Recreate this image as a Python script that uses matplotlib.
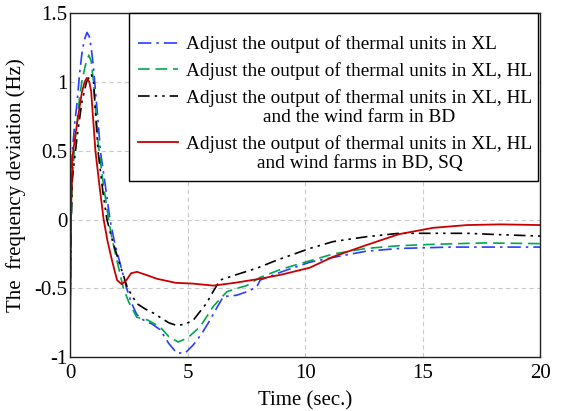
import numpy as np
import matplotlib.pyplot as plt
from matplotlib.legend_handler import HandlerLine2D

plt.rcParams['font.family'] = ['Liberation Serif', 'DejaVu Serif']

# time (s) and frequency deviation (Hz)
t_xl = [0, 0.05, 0.1, 0.2, 0.3, 0.4, 0.5, 0.6, 0.72, 0.82, 0.9, 1.0, 1.2, 1.29, 1.5, 1.7,
        1.9, 2.1, 2.41, 2.6, 2.84, 3.12, 3.5, 3.83, 4.2, 4.54, 4.9, 5.25, 5.6, 5.96,
        6.25, 6.52, 7.09, 7.6, 7.94, 8.09, 9.0, 10.2, 11.2, 12.6, 14.0, 16.2, 18.0, 20.0]
f_xl = [-0.75, 0.2, 0.5, 0.7, 0.85, 1.05, 1.2, 1.3, 1.36, 1.33, 1.25, 1.1, 0.7, 0.5, 0.25, 0.0,
        -0.17, -0.3, -0.5, -0.6, -0.69, -0.73, -0.76, -0.8, -0.9, -0.97, -0.97, -0.91, -0.83, -0.73,
        -0.64, -0.56, -0.55, -0.52, -0.49, -0.44, -0.38, -0.31, -0.275, -0.23, -0.21, -0.2, -0.2, -0.2]

t_xlhl = [0, 0.05, 0.1, 0.2, 0.3, 0.4, 0.5, 0.65, 0.8, 0.9, 1.0, 1.2, 1.4, 1.64, 1.8, 2.0,
          2.27, 2.5, 2.84, 3.3, 3.83, 4.2, 4.6, 5.0, 5.53, 6.1, 6.67, 7.1, 7.52, 8.09,
          9.0, 10.2, 11.2, 12.6, 14.0, 15.45, 17.6, 20.0]
f_xlhl = [-0.72, 0.0, 0.3, 0.55, 0.7, 0.88, 1.0, 1.12, 1.195, 1.15, 1.0, 0.55, 0.28, 0.0, -0.15, -0.3,
          -0.5, -0.6, -0.71, -0.73, -0.78, -0.85, -0.89, -0.86, -0.78, -0.63, -0.525, -0.5, -0.48, -0.42,
          -0.36, -0.3, -0.25, -0.21, -0.19, -0.18, -0.17, -0.175]

t_bd = [0, 0.05, 0.1, 0.2, 0.3, 0.5, 0.7, 0.9, 1.0, 1.19, 1.4, 1.57, 1.8, 2.07, 2.45,
        2.84, 3.2, 3.55, 4.2, 4.54, 4.9, 5.25, 5.8, 6.1, 6.38, 7.09, 8.0, 8.8, 10.2,
        11.2, 12.6, 14.0, 15.5, 16.9, 18.3, 20.0]
f_bd = [-0.65, 0.0, 0.3, 0.45, 0.6, 0.85, 1.0, 1.06, 1.0, 0.5, 0.2, 0.0, -0.15, -0.3, -0.5,
        -0.61, -0.65, -0.68, -0.75, -0.77, -0.76, -0.73, -0.61, -0.52, -0.44, -0.4, -0.35, -0.295, -0.21,
        -0.16, -0.125, -0.1, -0.1, -0.1, -0.11, -0.12]

t_sq = [0, 0.05, 0.1, 0.2, 0.3, 0.5, 0.62, 0.72, 0.82, 0.9, 1.08, 1.25, 1.43, 1.6, 1.79,
        2.0, 2.2, 2.4, 2.6, 2.85, 3.2, 3.69, 4.5, 5.2, 6.1, 7.0, 8.1, 9.0, 10.2,
        11.2, 12.6, 14.0, 15.45, 16.9, 18.3, 20.0]
f_sq = [-0.85, 0.1, 0.45, 0.58, 0.7, 0.92, 1.0, 1.03, 1.0, 0.93, 0.5, 0.25, 0.0, -0.16, -0.3,
        -0.44, -0.47, -0.44, -0.39, -0.38, -0.4, -0.43, -0.46, -0.465, -0.48, -0.46, -0.43, -0.4, -0.35,
        -0.27, -0.186, -0.106, -0.06, -0.04, -0.035, -0.04]

labels = ['Adjust the output of thermal units in XL',
          'Adjust the output of thermal units in XL, HL',
          'Adjust the output of thermal units in XL, HL\nand the wind farm in BD',
          'Adjust the output of thermal units in XL, HL\nand wind farms in BD, SQ']


class FirstLineHandler(HandlerLine2D):
    # put the legend sample level with the first line of a two-line label
    def __init__(self, dy, **kw):
        super().__init__(**kw)
        self.dy = dy

    def create_artists(self, legend, orig_handle, xdescent, ydescent, width, height,
                       fontsize, trans):
        arts = super().create_artists(legend, orig_handle, xdescent, ydescent, width,
                                      height, fontsize, trans)
        for a in arts:
            a.set_ydata([y + self.dy for y in a.get_ydata()])
        return arts


fig = plt.figure(figsize=(5.62, 4.11), dpi=100)
ax = fig.add_axes([0.1246, 0.131, 0.8364, 0.837])

l1, = ax.plot(t_xl, f_xl, color='#2b3cff', lw=1.2, dashes=(8, 3, 1.5, 3))
l2, = ax.plot(t_xlhl, f_xlhl, color='#00a651', lw=1.2, dashes=(7, 3.5))
l3, = ax.plot(t_bd, f_bd, color='black', lw=1.2, dashes=(7, 3, 1.5, 3, 1.5, 3))
l4, = ax.plot(t_sq, f_sq, color='#c80000', lw=1.3)

ax.set_xlim(0, 20)
ax.set_ylim(-1, 1.5)
ax.set_xticks([0, 5, 10, 15, 20])
ax.set_yticks([-1, -0.5, 0, 0.5, 1, 1.5])
ax.set_yticklabels(['-1', '-0.5', '0', '0.5', '1', '1.5'])
ax.tick_params(direction='in', length=0, labelsize=15)
ax.tick_params(axis='y', pad=2)
ax.tick_params(axis='x', pad=5)
ax.grid(True, color='#c8c8c8', lw=0.8, dashes=(4, 3))
for s in ax.spines.values():
    s.set_color('#222222')
    s.set_linewidth(1.0)

ax.set_xlabel('Time (sec.)', fontsize=15, labelpad=6)
ax.set_ylabel('The  frequency deviation (Hz)', fontsize=15)
ax.yaxis.set_label_coords(-0.094, 0.5)

fs = 13.9
leg = ax.legend([l1, l2, l3, l4], labels, loc='upper left',
                bbox_to_anchor=(0.1255, 0.0, 0.870, 1.0), mode='expand',
                title=' ', title_fontsize=4,
                fontsize=fs, frameon=True, fancybox=False, framealpha=1, edgecolor='black',
                borderaxespad=0, handlelength=2.1, handletextpad=0.42, labelspacing=0.45,
                borderpad=0.45,
                handler_map={l3: FirstLineHandler(0.6 * fs), l4: FirstLineHandler(0.6 * fs)})
leg.get_frame().set_linewidth(1.0)
for txt in leg.get_texts():
    txt.set_multialignment('center')

fig.savefig('out.png', dpi=100)
